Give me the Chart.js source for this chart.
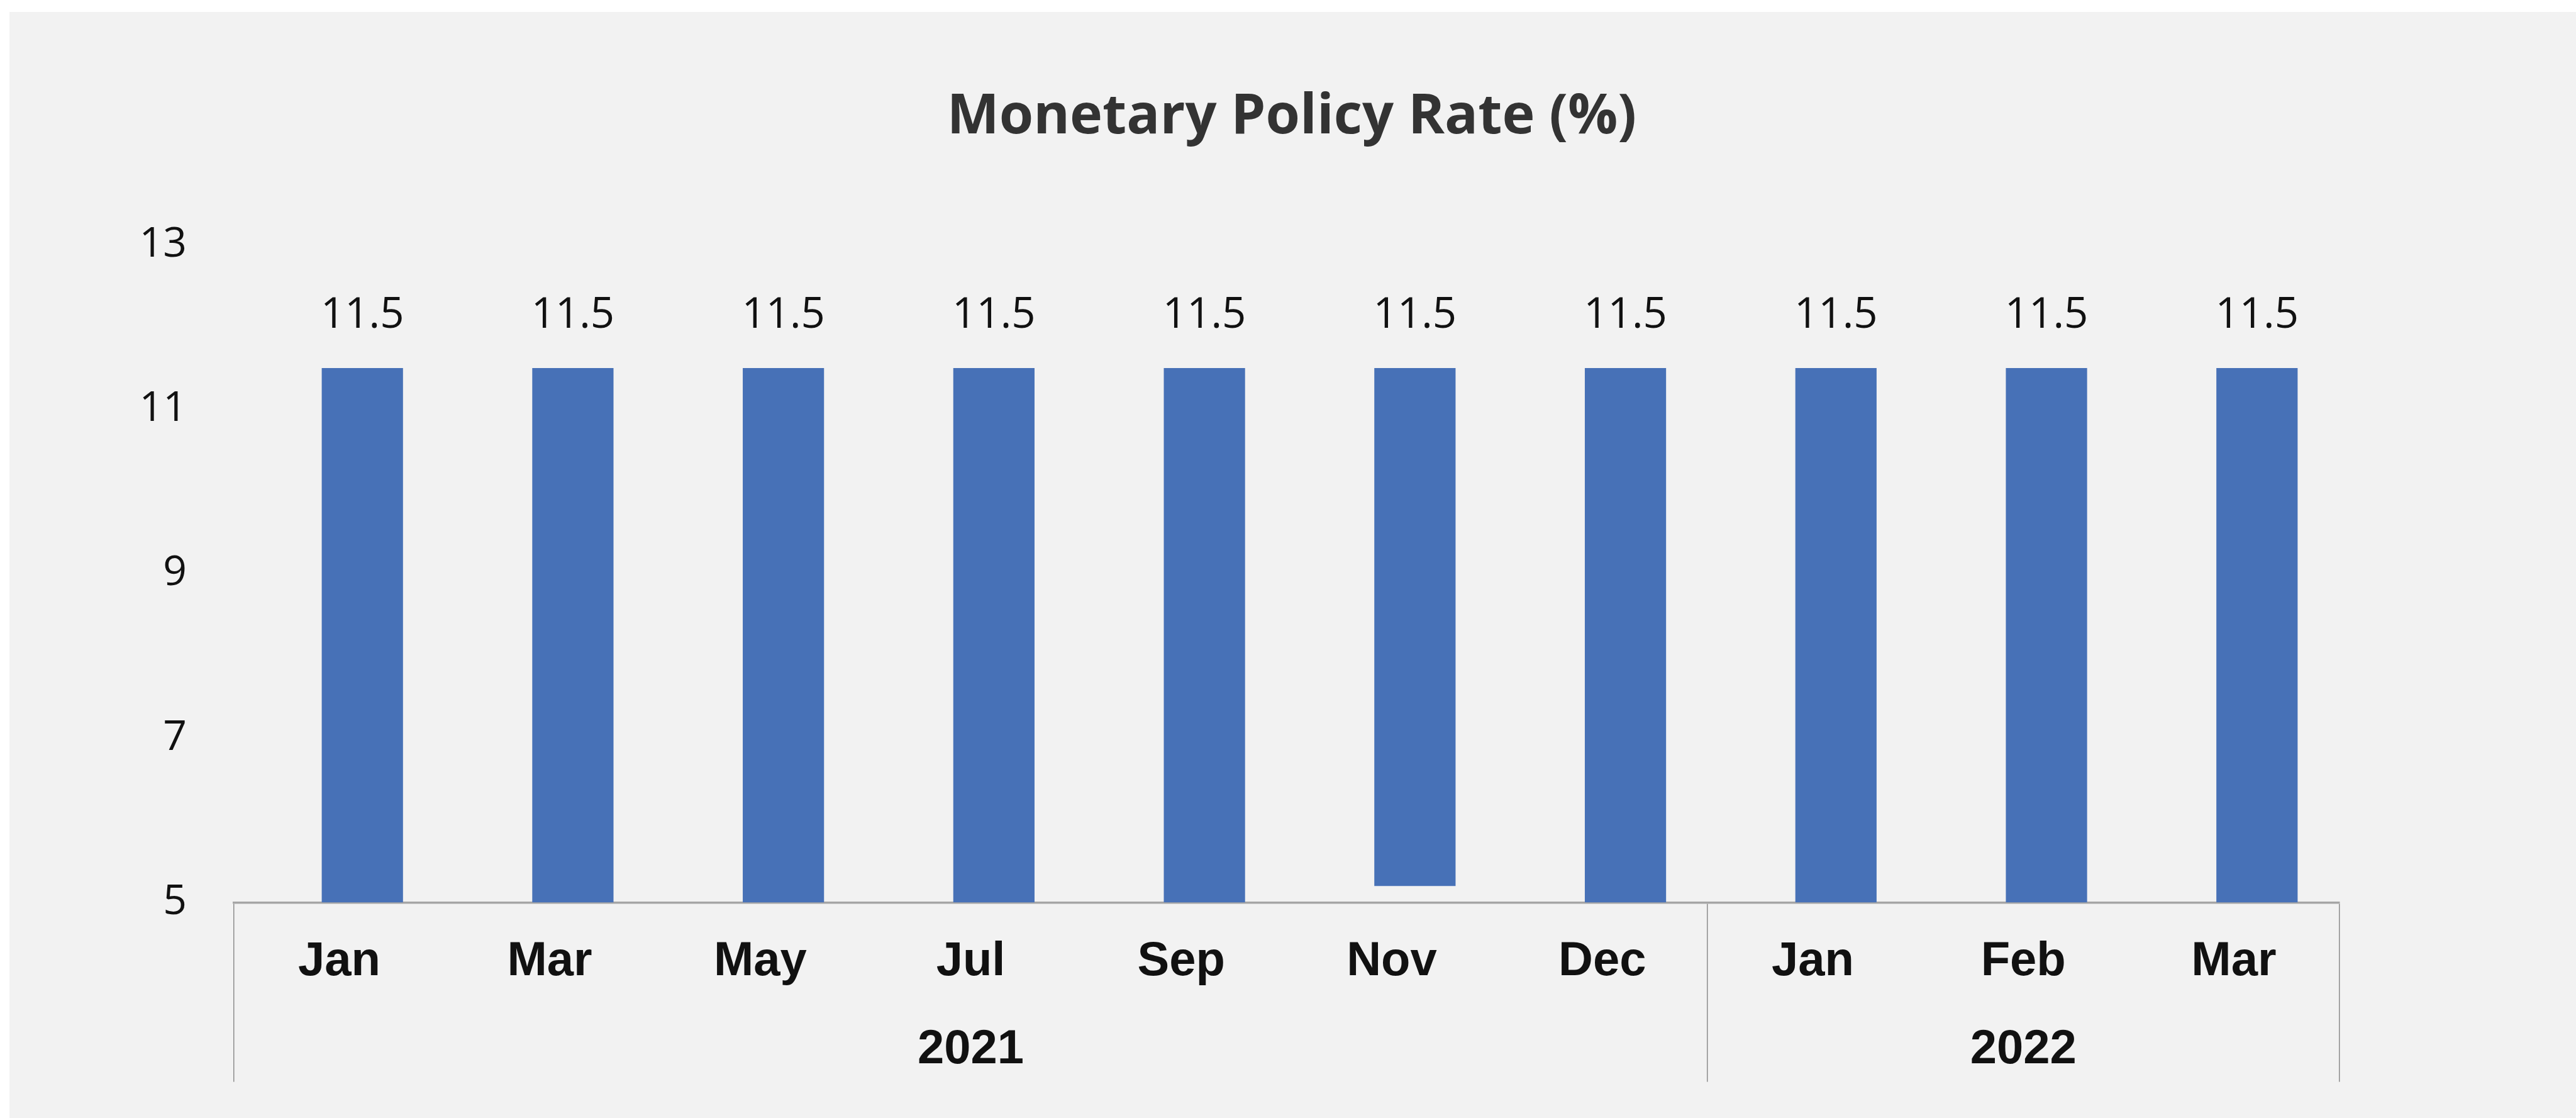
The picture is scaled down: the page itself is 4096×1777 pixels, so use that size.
<!DOCTYPE html>
<html>
<head>
<meta charset="utf-8">
<script src="https://cdn.jsdelivr.net/npm/chart.js@4/dist/chart.umd.min.js"></script>
<style>
  html, body { margin: 0; padding: 0; background: #ffffff; overflow: hidden; }
  canvas { display: block; }
</style>
</head>
<body>
<canvas id="c" width="4096" height="1777"></canvas>
<script>
// ---- data ----
const titleText = 'Monetary Policy Rate (%)';
const months = ['Jan', 'Mar', 'May', 'Jul', 'Sep', 'Nov', 'Dec', 'Jan', 'Feb', 'Mar'];
const rates = [11.5, 11.5, 11.5, 11.5, 11.5, 11.5, 11.5, 11.5, 11.5, 11.5];
const barStarts = [5, 5, 5, 5, 5, 5.2, 5, 5, 5, 5];
const yearLabels = ['2021', '2022'];
const monthsPerYear = [7, 3];
const yTickValues = [5, 7, 9, 11, 13];

// ---- derived helpers ----
const yearCenters = [];
const separatorIdx = [];
let acc = 0;
monthsPerYear.forEach(n => { separatorIdx.push(acc); yearCenters.push(acc + n / 2); acc += n; });

// ---- styling ----
const BAR_COLOR = '#4771b7';
const BG = '#f2f2f2';
const SEP_COLOR = '#8c8c8c';
const AXIS_COLOR = '#a6a6a6';
const BAR_SHIFT = 0.11;

const bgPlugin = {
  id: 'bg',
  beforeDraw(chart) {
    const ctx = chart.ctx;
    ctx.save();
    ctx.fillStyle = '#ffffff';
    ctx.fillRect(0, 0, chart.width, chart.height);
    ctx.fillStyle = BG;
    ctx.fillRect(15, 19, chart.width - 15, chart.height - 19);
    ctx.restore();
  }
};

const valueLabels = {
  id: 'valueLabels',
  afterDatasetsDraw(chart) {
    const ctx = chart.ctx;
    ctx.save();
    ctx.font = '67px "Open Sans"';
    ctx.fillStyle = '#111111';
    ctx.textAlign = 'center';
    ctx.textBaseline = 'middle';
    const meta = chart.getDatasetMeta(0);
    meta.data.forEach((el, i) => {
      ctx.fillText(rates[i].toFixed(1), el.x, el.y - 83);
    });
    ctx.restore();
  }
};

function build() {
  new Chart(document.getElementById('c'), {
    type: 'bar',
    data: {
      labels: months,
      datasets: [{
        label: 'Monetary Policy Rate',
        data: months.map((m, i) => ({ x: i, y: [barStarts[i], rates[i]] })),
        backgroundColor: BAR_COLOR,
        borderWidth: 0,
        barPercentage: 0.386,
        categoryPercentage: 1,
        xAxisID: 'xb',
        yAxisID: 'y'
      }]
    },
    options: {
      responsive: false,
      animation: false,
      devicePixelRatio: 1,
      layout: { padding: { left: 12, right: 0, top: 0, bottom: 42.6 } },
      plugins: {
        legend: { display: false },
        tooltip: { enabled: false },
        title: {
          display: true,
          text: titleText,
          color: '#333333',
          font: { family: '"Open Sans"', size: 88, weight: 'bold' },
          padding: { top: 134, bottom: 149.4 }
        }
      },
      scales: {
        xb: {
          type: 'linear',
          display: false,
          offset: false,
          min: -0.5 - BAR_SHIFT,
          max: months.length - 0.5 - BAR_SHIFT,
          afterBuildTicks: (s) => { s.ticks = months.map((m, i) => ({ value: i })); },
          grid: { display: false, offset: false }
        },
        x: {
          type: 'category',
          position: 'bottom',
          offset: true,
          grid: {
            display: true,
            offset: true,
            drawOnChartArea: false,
            drawTicks: true,
            tickLength: 285,
            lineWidth: 1.5,
            color: (ctx) => (ctx.type === 'tick' && !separatorIdx.includes(ctx.index)) ? 'rgba(0,0,0,0)' : SEP_COLOR
          },
          border: { display: true, color: AXIS_COLOR, width: 3.5 },
          ticks: {
            autoSkip: false,
            maxRotation: 0,
            minRotation: 0,
            padding: -236,
            color: '#111111',
            font: { family: '"Liberation Sans"', size: 76, weight: 'bold' }
          },
          afterFit: (s) => { s.height = 150; }
        },
        xy: {
          type: 'linear',
          position: 'bottom',
          offset: false,
          min: 0,
          max: months.length,
          afterBuildTicks: (s) => { s.ticks = yearCenters.map(v => ({ value: v })); },
          grid: { display: false, drawTicks: false, offset: false },
          border: { display: false },
          ticks: {
            autoSkip: false,
            maxRotation: 0,
            minRotation: 0,
            padding: 39,
            color: '#111111',
            font: { family: '"Liberation Sans"', size: 76, weight: 'bold' },
            callback: (v, i) => yearLabels[i]
          },
          afterFit: (s) => { s.height = 150; }
        },
        y: {
          type: 'linear',
          position: 'left',
          min: yTickValues[0],
          max: yTickValues[yTickValues.length - 1],
          afterBuildTicks: (s) => { s.ticks = yTickValues.map(v => ({ value: v })); },
          grid: { display: false, drawTicks: false },
          border: { display: false },
          ticks: {
            padding: 75,
            color: '#111111',
            font: { family: '"Open Sans"', size: 66 }
          },
          afterFit: (s) => { s.width = 360; }
        },
        yr: {
          type: 'linear',
          position: 'right',
          grid: { display: false, drawTicks: false },
          border: { display: false },
          ticks: { display: false },
          afterFit: (s) => { s.width = 376.7; }
        }
      }
    },
    plugins: [bgPlugin, valueLabels]
  });
}

const fontLoads = [
  'bold 88px "Open Sans"', '66px "Open Sans"', 'bold 76px "Liberation Sans"'
].map(f => document.fonts.load(f).catch(() => null));
Promise.race([Promise.all(fontLoads), new Promise(r => setTimeout(r, 1500))]).then(build);
</script>
</body>
</html>
